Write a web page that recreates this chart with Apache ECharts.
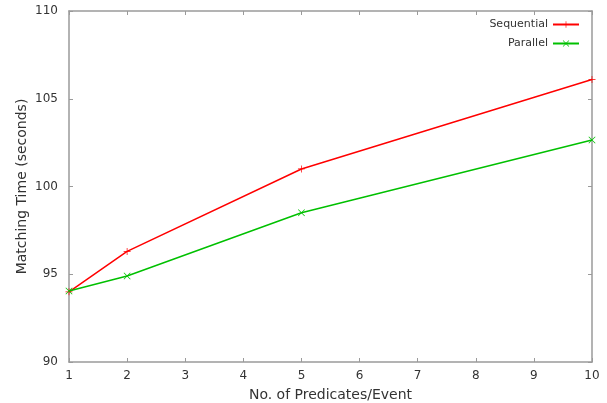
<!DOCTYPE html>
<html>
<head>
<meta charset="utf-8">
<script src="https://cdn.jsdelivr.net/npm/echarts@6/dist/echarts.min.js"></script>
<style>
  html, body { margin: 0; padding: 0; background: #fff; }
  #chart { width: 607px; height: 403px; }
</style>
</head>
<body>
<div id="chart"></div>
<script>
const predicates = [1, 2, 5, 10]
const sequential = [94.0, 96.3, 101.0, 106.1]
const parallel = [94.05, 94.9, 98.5, 102.65]
const seriesNames = ['Sequential', 'Parallel']

const plusPath = 'path://M0,4.5h10v1h-10z M4.5,0h1v10h-1z'
const crossPath = 'path://M0.7,0L5,4.3L9.3,0L10,0.7L5.7,5L10,9.3L9.3,10L5,5.7L0.7,10L0,9.3L4.3,5L0,0.7z'

const axisGray = '#9a9a9a'
const textCol = '#333'
const font = 'DejaVu Sans'

const chart = echarts.init(document.getElementById('chart'))

const tickStyle = { show: true, inside: true, length: 4, lineStyle: { color: axisGray } }

chart.setOption({
  animation: false,
  textStyle: { fontFamily: font },
  grid: { left: 69, right: 15, top: 11, bottom: 41, containLabel: false, outerBoundsMode: 'none' },
  legend: {
    orient: 'vertical',
    right: 22,
    top: 14,
    align: 'right',
    itemWidth: 26,
    itemHeight: 8,
    itemGap: 8,
    textStyle: { fontFamily: font, fontSize: 11, color: textCol },
    data: seriesNames,
  },
  xAxis: [
    {
      type: 'value',
      min: 1,
      max: 10,
      interval: 1,
      name: 'No. of Predicates/Event',
      nameLocation: 'middle',
      nameGap: 26,
      nameMoveOverlap: false,
      nameTextStyle: { fontFamily: font, fontSize: 14, color: textCol },
      axisLine: { lineStyle: { color: axisGray, width: 1.5 } },
      axisTick: tickStyle,
      axisLabel: { color: textCol, fontSize: 12, margin: 8 },
      splitLine: { show: false },
    },
    {
      type: 'value',
      position: 'top',
      min: 1,
      max: 10,
      interval: 1,
      axisLine: { show: true, lineStyle: { color: axisGray, width: 1.5 } },
      axisTick: tickStyle,
      axisLabel: { show: false },
      splitLine: { show: false },
    },
  ],
  yAxis: [
    {
      type: 'value',
      min: 90,
      max: 110,
      interval: 5,
      name: 'Matching Time (seconds)',
      nameLocation: 'middle',
      nameGap: 40,
      nameMoveOverlap: false,
      nameTextStyle: { fontFamily: font, fontSize: 14, color: textCol },
      axisLine: { show: true, lineStyle: { color: axisGray, width: 1.5 } },
      axisTick: tickStyle,
      axisLabel: { color: textCol, fontSize: 12, margin: 11 },
      splitLine: { show: false },
    },
    {
      type: 'value',
      position: 'right',
      min: 90,
      max: 110,
      interval: 5,
      axisLine: { show: true, lineStyle: { color: axisGray, width: 1.5 } },
      axisTick: tickStyle,
      axisLabel: { show: false },
      splitLine: { show: false },
    },
  ],
  series: [
    {
      name: seriesNames[0],
      type: 'line',
      data: predicates.map((p, i) => [p, sequential[i]]),
      symbol: plusPath,
      symbolSize: 7,
      showAllSymbol: true,
      lineStyle: { color: '#ff0000', width: 1.5 },
      itemStyle: { color: '#ff0000' },
    },
    {
      name: seriesNames[1],
      type: 'line',
      data: predicates.map((p, i) => [p, parallel[i]]),
      symbol: crossPath,
      symbolSize: 7,
      showAllSymbol: true,
      lineStyle: { color: '#00c000', width: 1.5 },
      itemStyle: { color: '#00c000' },
    },
  ],
})
</script>
</body>
</html>
